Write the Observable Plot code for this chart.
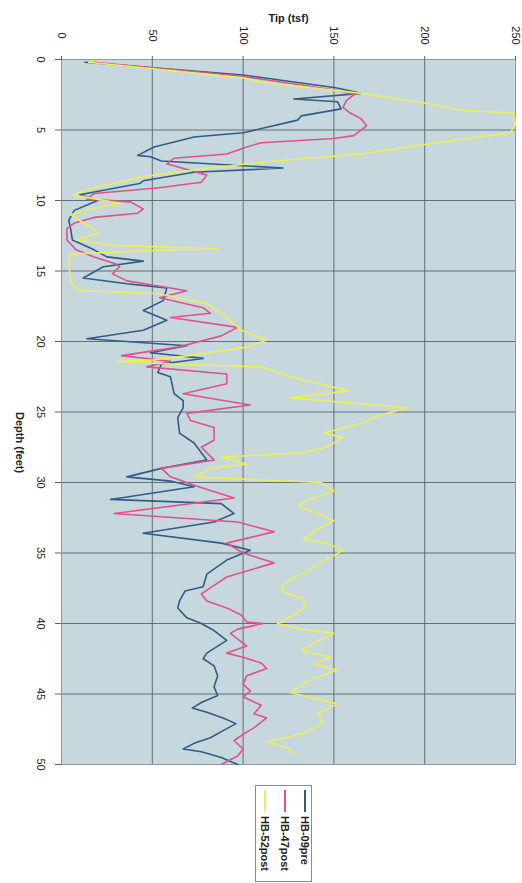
<!DOCTYPE html>
<html><head><meta charset="utf-8">
<script src="https://cdn.jsdelivr.net/npm/d3@7"></script>
<script src="https://cdn.jsdelivr.net/npm/@observablehq/plot@0.6"></script>
<style>
body{margin:0;background:#fff;font-family:"Liberation Sans",Arial,sans-serif;}
#wrap{position:relative;width:522px;height:883px;}
#legend{position:absolute;left:255px;top:785px;width:57px;height:97px;border:1px solid #8c8c8c;box-sizing:border-box;display:flex;flex-direction:row-reverse;gap:8px;padding:4px 0 0 0;}
.item{width:12px;display:flex;flex-direction:column;align-items:center;}
.sw{width:2px;height:22px;}
.lab{writing-mode:vertical-rl;font-size:11px;font-weight:bold;margin-top:4px;color:#222;white-space:nowrap;}
</style>
</head><body>
<div id="wrap"><div id="chart"></div><div id="legend"></div></div>
<script>
const seriesNames = ["HB-09pre", "HB-47post", "HB-52post"];
const seriesColors = ["#2f5d88", "#e0528c", "#ecee5c"];
const tipTicks = [0, 50, 100, 150, 200, 250];
const depthTicks = [0, 5, 10, 15, 20, 25, 30, 35, 40, 45, 50];

const hb09Depth = [0.2,1.1,2.0,2.4,2.8,3.0,3.5,4.0,4.3,5.2,5.5,6.2,6.8,6.9,7.2,7.7,8.0,8.6,8.8,9.4,9.6,10.0,10.7,11.4,12.0,12.8,13.5,14.0,14.3,14.7,15.5,15.9,16.2,17.1,17.8,18.5,19.2,19.8,20.3,20.8,21.2,21.6,22.2,22.5,23.7,24.2,24.7,25.4,26.5,27.2,28.4,29.0,29.6,29.9,30.3,31.2,31.5,32.2,32.8,33.6,34.3,34.8,35.5,36.5,37.4,37.7,38.4,38.9,39.6,40.0,40.5,41.2,41.6,42.1,42.5,43.0,43.7,44.5,45.1,45.6,46.0,46.3,46.7,47.1,47.6,48.1,48.5,48.9,49.1,49.5,50.0];
const hb09Tip = [13,100,151,165,128,152,154,132,130,100,73,51,42,49,55,122,73,45,43,18,10,20,7,4,5,6,18,25,45,23,12,36,58,56,45,58,45,14,69,49,78,55,53,60,62,67,67,64,65,73,80,55,36,60,73,27,88,95,84,45,88,104,91,80,78,68,65,64,69,77,84,91,86,80,78,84,86,84,86,77,72,80,89,96,89,82,73,67,77,88,97];

const hb47Depth = [0.2,1.2,2.2,2.5,2.9,3.4,3.8,4.2,4.7,5.4,5.6,5.9,6.2,6.7,7.0,7.4,8.2,8.7,9.1,9.5,9.9,10.1,10.6,10.9,11.2,11.6,12.0,12.8,13.5,14.0,14.5,14.7,15.2,15.7,16.1,16.4,16.9,17.6,18.0,18.3,19.0,19.6,20.4,21.0,21.4,21.8,22.3,23.0,23.7,24.5,25.1,25.6,26.1,27.0,27.5,28.4,29.0,29.6,30.2,31.1,32.2,32.8,33.5,34.3,35.0,35.7,36.7,37.9,38.4,38.9,39.4,39.9,40.0,40.4,40.7,41.6,42.1,42.4,42.8,43.2,43.7,44.3,44.8,45.2,45.8,46.4,46.7,47.4,47.7,48.3,48.9,49.4,50.0];
const hb47Tip = [18,100,152,161,157,155,159,165,168,161,150,110,102,91,62,58,80,77,54,18,14,38,45,42,18,7,3,3,8,18,30,32,28,36,55,69,54,78,82,60,97,88,64,33,60,47,91,91,67,104,69,71,84,84,77,84,55,60,73,95,29,97,117,91,100,117,91,77,80,91,99,102,111,97,93,102,91,100,110,113,102,100,104,100,110,106,113,106,102,95,100,97,88];

const hb52Depth = [0.2,1.3,1.6,2.4,3.1,3.6,3.8,4.6,5.2,6.0,6.7,7.2,7.7,8.3,9.1,9.6,10.2,10.5,11.0,11.9,12.3,12.8,13.2,13.4,13.6,13.8,14.5,15.7,16.4,16.6,16.9,17.3,18.3,19.2,19.9,20.4,21.0,21.3,21.4,21.6,21.8,22.5,23.5,24.0,24.7,25.2,25.8,26.5,26.8,27.5,27.9,28.2,28.7,29.0,29.6,30.0,30.6,31.1,31.6,32.1,32.7,33.3,34.0,34.3,34.8,35.7,36.5,37.2,37.7,38.2,38.7,39.4,40.0,40.4,40.7,41.4,41.9,42.4,42.9,43.3,44.0,44.9,45.3,45.7,46.4,47.1,47.8,48.4,48.8,49.2];
const hb52Tip = [15,100,110,165,201,220,249,250,247,201,165,117,82,45,18,6,32,20,5,16,20,8,30,86,40,5,4,5,9,53,64,80,91,99,113,102,70,51,31,60,110,126,158,126,191,176,165,144,155,146,132,88,102,82,73,143,150,139,130,139,150,141,133,146,155,143,132,122,121,132,135,128,119,132,150,139,132,148,139,152,137,126,139,152,141,144,133,113,124,128];

const depths = [hb09Depth, hb47Depth, hb52Depth];
const tips = [hb09Tip, hb47Tip, hb52Tip];
const rows = seriesNames.flatMap((s, i) => depths[i].map((d, j) => ({series: s, depth: d, tip: tips[i][j]})));

const chart = Plot.plot({
  width: 522, height: 883,
  marginLeft: 61, marginRight: 7, marginTop: 59, marginBottom: 119,
  style: {fontFamily: "'Liberation Sans', Arial, sans-serif", fontSize: "11px", color: "#222", background: "#fff"},
  x: {domain: [0, 250]},
  y: {domain: [0, 50], reverse: true},
  color: {domain: seriesNames, range: seriesColors},
  marks: [
    Plot.frame({fill: "#c7d7de"}),
    Plot.gridX(tipTicks.slice(1, -1), {stroke: "#56646c", strokeOpacity: 0.9, strokeWidth: 1}),
    Plot.gridY(depthTicks.slice(1, -1), {stroke: "#56646c", strokeOpacity: 0.9, strokeWidth: 1}),
    Plot.frame({stroke: "#8a9aa2"}),
    Plot.line(rows, {x: "tip", y: "depth", z: "series", stroke: "series", strokeWidth: 1.6, curve: "linear"}),
    Plot.axisX(tipTicks, {anchor: "top", label: null, tickSize: 4, tickPadding: 20, tickRotate: 90, textAnchor: "middle", lineAnchor: "middle", stroke: "#56646c"}),
    Plot.axisY(depthTicks, {anchor: "left", label: null, tickSize: 6, tickPadding: 15, tickRotate: 90, textAnchor: "middle", lineAnchor: "middle", stroke: "#56646c"}),
    Plot.text(["Tip (tsf)"], {text: d => d, frameAnchor: "top", dy: -45, fontWeight: "bold", fontSize: 11}),
    Plot.text(["Depth (feet)"], {text: d => d, frameAnchor: "left", dx: -42, rotate: 90, fontWeight: "bold", fontSize: 11})
  ]
});
document.getElementById("chart").appendChild(chart);

const legend = document.getElementById("legend");
seriesNames.forEach((s, i) => {
  const it = document.createElement("div");
  it.className = "item";
  const sw = document.createElement("div");
  sw.className = "sw";
  sw.style.background = seriesColors[i];
  const lab = document.createElement("div");
  lab.className = "lab";
  lab.textContent = s;
  it.appendChild(sw); it.appendChild(lab);
  legend.appendChild(it);
});
</script>
</body></html>
